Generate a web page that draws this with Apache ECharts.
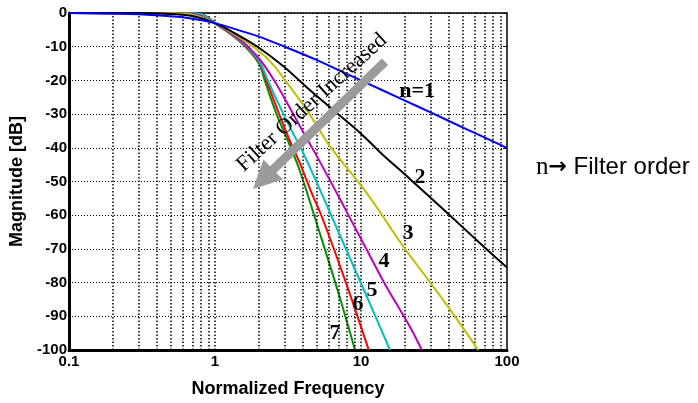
<!DOCTYPE html>
<html><head><meta charset="utf-8">
<script src="https://cdn.jsdelivr.net/npm/echarts@6/dist/echarts.min.js"></script>
<style>html,body{margin:0;padding:0;background:#fff}#c{width:698px;height:403px}</style>
</head><body><div id="c"></div>
<script>
// ---- data (frequency, magnitude dB) ----
const n1 = [[0.1,0],[0.2,-0.2],[0.3,-0.4],[0.5,-1],[0.7,-1.7],[1,-3],[1.5,-5.3],[2,-7],[3,-10],[5,-14],[7.2,-17.2],[10,-20],[20,-26],[30,-29.5],[50,-34],[100,-40]];
const n2 = [[0.1,0],[0.3,0],[0.5,-0.3],[0.7,-0.9],[1,-3],[1.5,-7],[2,-10.3],[2.94,-15.8],[4,-21],[5,-24.7],[6.8,-29.6],[10,-35.8],[13.5,-41.3],[21.7,-49.3],[40,-59.8],[70,-69.5],[100,-75.5]];
const n3 = [[0.1,0],[0.5,-0.1],[0.7,-0.5],[1,-3],[1.5,-7.5],[2,-11.3],[2.5,-15.3],[3,-19.8],[3.92,-26.6],[4.97,-33.3],[6.13,-39.6],[10.1,-51.4],[13.5,-59.1],[16.2,-64.2],[19.5,-69.3],[29.7,-79.9],[45,-90.6],[63.5,-100]];
const n4 = [[0.1,0],[0.5,0],[0.7,-0.3],[1,-3],[1.5,-8],[2,-13.5],[2.5,-19.5],[2.94,-24.7],[3.92,-34.5],[4.97,-42.4],[7.18,-55.2],[8.8,-62.5],[10,-67],[14.2,-79.5],[19.4,-89.6],[22.2,-94],[26.1,-100]];
const n5 = [[0.1,0],[0.6,0],[0.8,-0.4],[1,-3],[1.5,-8.3],[2,-14.2],[2.3,-20],[2.94,-30],[3.5,-36.5],[3.92,-40.5],[5,-50.5],[6.47,-61.5],[10,-80.2],[15.8,-100]];
const n6 = [[0.1,0],[0.7,-0.2],[0.85,-0.7],[1,-3],[1.5,-8.5],[2,-14.5],[2.25,-20],[2.75,-30],[3.3,-38.5],[3.81,-44.5],[4.5,-52.5],[5.51,-61.5],[8,-80.8],[11.3,-100]];
const n7 = [[0.1,0],[0.7,-0.2],[0.85,-0.8],[1,-3],[1.5,-8.7],[2,-15],[2.19,-20],[2.64,-30],[3.2,-38.5],[3.81,-46.8],[4.87,-61.2],[7,-83],[9.1,-100]];
const curveNames = ['n=1','n=2','n=3','n=4','n=5','n=6','n=7'];
const curveColors = ['#0000ff','#000000','#bfbf00','#bf00bf','#00bfbf','#ff0000','#009000'];
const curves = [n1,n2,n3,n4,n5,n6,n7];
// vertical grid lines (log minor ticks)
const xGrid = [0.2,0.3,0.4,0.5,0.6,0.7,0.8,0.9,1,2,3,4,5,6,7,8,9,10,20,30,40,50,60,70,80,90];
// curve labels
const labelTexts = ['n=1','2','3','4','5','6','7'];
const labelX = [24.2,25.4,21.0,14.4,11.9,9.53,6.64];
const labelY = [-23.3,-48.7,-65.5,-73.7,-82.3,-86.4,-95];
// annotation arrow (data coords): tail, tip; text centre
const arrowTail = [14.6,-14.5];
const arrowTip = [1.82,-52.2];
const arrowText = 'Filter Order Increased';
const arrowTextPos = [4.6,-26.6];

const chart = echarts.init(document.getElementById('c'), null, {renderer:'canvas'});
const bold = {fontFamily:'Liberation Sans, Arial, sans-serif', fontWeight:'bold', color:'#000'};

const series = [];
series.push({
  type:'line', data:[], silent:true, xAxisIndex:0, yAxisIndex:0,
  markLine:{silent:true, symbol:'none', label:{show:false}, animation:false,
    lineStyle:{type:[1.5,2], color:'#000', width:1.5},
    data:xGrid.map(v=>({xAxis:v}))}
});
for (let i = curves.length-1; i >= 0; i--) {
  series.push({
    name:curveNames[i], type:'line', data:curves[i], showSymbol:false, symbol:'none',
    smooth:0.4, clip:true,
    lineStyle:{color:curveColors[i], width:2}, z:3+(curves.length-i)
  });
}

chart.setOption({
  animation:false,
  grid:{left:69, right:191, top:13, bottom:51, containLabel:false},
  xAxis:[{
    type:'log', logBase:10, min:0.1, max:100, position:'bottom',
    axisLine:{show:true, onZero:false, lineStyle:{color:'#000', width:3}},
    axisTick:{show:false}, splitLine:{show:false},
    axisLabel:Object.assign({fontSize:15, margin:4, formatter:v=>String(v)}, bold),
    name:'Normalized Frequency', nameLocation:'middle', nameGap:30,
    nameTextStyle:Object.assign({fontSize:18}, bold)
  },{
    type:'log', logBase:10, min:0.1, max:100, position:'top',
    axisLine:{show:true, onZero:false, lineStyle:{color:'#000', width:1.5}},
    axisTick:{show:false}, axisLabel:{show:false}, splitLine:{show:false}
  }],
  yAxis:[{
    type:'value', min:-100, max:0, interval:10, position:'left',
    axisLine:{show:true, onZero:false, lineStyle:{color:'#000', width:3}},
    axisTick:{show:false},
    splitLine:{show:true, lineStyle:{type:[1,2], color:'#000', width:1}},
    axisLabel:Object.assign({fontSize:15, margin:2}, bold),
    name:'Magnitude [dB]', nameLocation:'middle', nameGap:43, nameRotate:90,
    nameTextStyle:Object.assign({fontSize:18}, bold)
  },{
    type:'value', min:-100, max:0, interval:10, position:'right',
    axisLine:{show:true, onZero:false, lineStyle:{color:'#000', width:1.5}},
    axisTick:{show:true, inside:true, length:4, lineStyle:{color:'#000', width:1}},
    axisLabel:{show:false}, splitLine:{show:false}
  }],
  series:series
});

const toPx = d => chart.convertToPixel({xAxisIndex:0, yAxisIndex:0}, d);
const t = toPx(arrowTail), h = toPx(arrowTip), c = toPx(arrowTextPos);
const dx = h[0]-t[0], dy = h[1]-t[1], L = Math.hypot(dx,dy);
const ux = dx/L, uy = dy/L, px = -uy, py = ux;
const sw = 4.5, hl = 28, hw = 14;
const bx = h[0]-ux*hl, by = h[1]-uy*hl;
const pts = [
  [t[0]+px*sw, t[1]+py*sw],[bx+px*sw, by+py*sw],[bx+px*hw, by+py*hw],[h[0],h[1]],
  [bx-px*hw, by-py*hw],[bx-px*sw, by-py*sw],[t[0]-px*sw, t[1]-py*sw]
];
const ang = Math.atan2(-(t[1]-h[1]), t[0]-h[0]) - 0.03;
const graphics = [
  {type:'polygon', shape:{points:pts}, style:{fill:'#9b9b9b'}, z:30, silent:true},
  {type:'text', x:c[0], y:c[1], rotation:ang, z:31, silent:true,
   style:{text:arrowText, fontFamily:'Liberation Serif, Times New Roman, serif', fontSize:22,
     fill:'#000', align:'center', verticalAlign:'middle'}},
  {type:'text', left:536, top:155, z:31, silent:true,
   style:{text:'{a|n}{b|→} Filter order', fontFamily:'Liberation Sans, Arial, sans-serif', fontSize:24, fill:'#000',
     rich:{a:{fontFamily:'Liberation Serif, serif', fontSize:25}, b:{fontFamily:'DejaVu Sans', fontWeight:'bold', fontSize:22}}}}
];
labelTexts.forEach((s,i)=>{
  const p = toPx([labelX[i], labelY[i]]);
  graphics.push({type:'text', x:p[0], y:p[1], z:32, silent:true,
    style:{text:s, fontFamily:'Liberation Serif, Times New Roman, serif', fontWeight:'bold', fontSize:22,
      fill:'#000', align:'center', verticalAlign:'middle'}});
});
chart.setOption({graphic:graphics});
</script></body></html>
